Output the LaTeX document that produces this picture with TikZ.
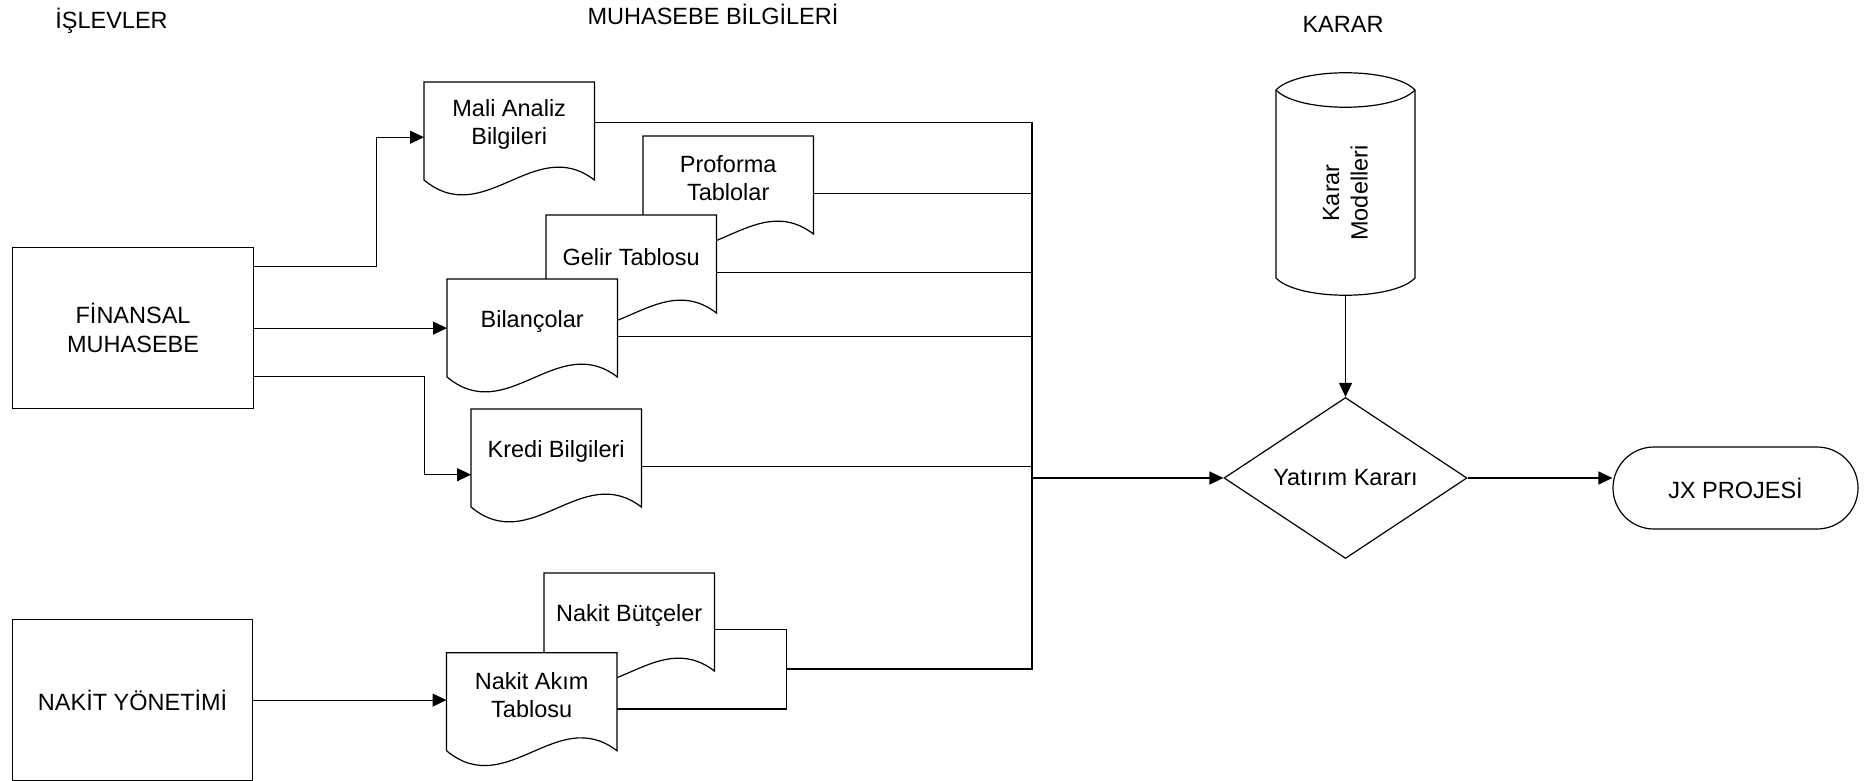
\documentclass[tikz,border=0pt]{standalone}
\usepackage{fontspec}
\setmainfont{Liberation Sans}
\usetikzlibrary{arrows.meta,shapes.geometric,calc}
\pgfdeclarelayer{bg}
\pgfsetlayers{bg,main}

\tikzset{
  line/.style={draw=black, line width=1.2pt},
  arr/.style={line, -{Triangle[length=14pt,width=13pt]}},
  box/.style={line, minimum width=241pt, minimum height=161pt, anchor=north west, align=center, inner sep=0pt},
  doc/.style={minimum width=170pt, minimum height=84pt, anchor=north west, align=center, inner sep=0pt},
  docline/.style={line, fill=white},
  title/.style={inner sep=0pt, anchor=base},
}

% document symbol: straight top and sides, wavy bottom edge
\newcommand\docoutline[1]{%
  \begin{pgfonlayer}{bg}
    \path[docline] (#1.north west) -- (#1.north east) -- ($(#1.north east)+(0,98)$)
      .. controls ($(#1.north east)+(-60,52)$) and ($(#1.north west)+(60,148)$) .. ($(#1.north west)+(0,98)$) -- cycle;
  \end{pgfonlayer}}

\begin{document}
\begin{tikzpicture}[x=1pt,y=-1pt,font=\fontsize{23.5}{28.5}\selectfont]
\useasboundingbox (0,0) rectangle (1872,781);

% column headings
\node[title] (t1) at (111.5,28.3) {İŞLEVLER};
\node[title] (t2) at (713,24.3) {MUHASEBE BİLGİLERİ};
\node[title] (t3) at (1343,32.3) {KARAR};

% functions
\node[box] (fm) at (12,247) {FİNANSAL\\MUHASEBE};
\node[box, minimum width=240pt] (ny) at (12,619) {NAKİT YÖNETİMİ};

% accounting documents, back to front
\node[doc] (ma) at (424,82) {Mali Analiz\\Bilgileri}; \docoutline{ma}
\node[doc] (pf) at (643,136) {Proforma\\Tablolar}; \docoutline{pf}
\node[doc] (gt) at (546,215) {Gelir Tablosu}; \docoutline{gt}
\node[doc] (bl) at (447,279) {Bilançolar}; \docoutline{bl}
\node[doc] (kr) at (471,409) {Kredi Bilgileri}; \docoutline{kr}
\node[doc] (nb) at (544,573) {Nakit Bütçeler}; \docoutline{nb}
\node[doc] (na) at (446.5,652.7) {Nakit Akım\\Tablosu}; \docoutline{na}

% decision models store
\filldraw[docline] (1276,90) .. controls (1298,67) and (1393,67) .. (1415,90) -- (1415,278)
  .. controls (1393,301) and (1298,301) .. (1276,278) -- cycle;
\draw[line] (1276,90) .. controls (1298,113) and (1393,113) .. (1415,90);
\node[rotate=90, align=center, inner sep=0pt] (km) at (1345.5,193) {Karar\\Modelleri};
\coordinate (kmb) at (1345.5,296);

% decision and result
\node[diamond, line, aspect=1.509, minimum width=243pt, minimum height=161pt, inner sep=0pt] (dk) at (1345.5,478) {Yatırım Kararı};
\node[line, rounded corners=41pt, minimum width=245pt, minimum height=82pt, inner sep=0pt] (jx) at (1735.5,488) {JX PROJESİ};

% flows from the functions
\draw[arr] ([yshift=62pt]fm.east) -- ++(122,0) |- ([yshift=-13pt]ma.west);
\draw[arr] (fm.east) -- (fm.east -| bl.west);
\draw[arr] ([yshift=-48.5pt]fm.east) -- ++(170,0) |- ([yshift=-23.5pt]kr.west);
\draw[arr] (ny.east) -- (ny.east -| na.west);

% collecting line
\coordinate (bus) at (1032,478);
\coordinate (nj) at (786.7,669);
\draw[line] ([yshift=2pt]ma.east) -| (bus |- nj) -- (nj);
\draw[line] ([yshift=-14pt]nb.east) -| (nj) |- ([yshift=-14pt]na.east);
\foreach \d in {pf,gt,bl,kr}{
  \coordinate (\d-out) at ([yshift=-15.5pt]\d.east);
  \draw[line] (\d-out) -- (\d-out -| bus);
}

% into the decision
\draw[arr] (bus) -- (dk.west);
\draw[arr] (kmb) -- (dk.north);
\draw[arr] (dk.east) -- (dk.east -| jx.west);
\end{tikzpicture}
\end{document}
